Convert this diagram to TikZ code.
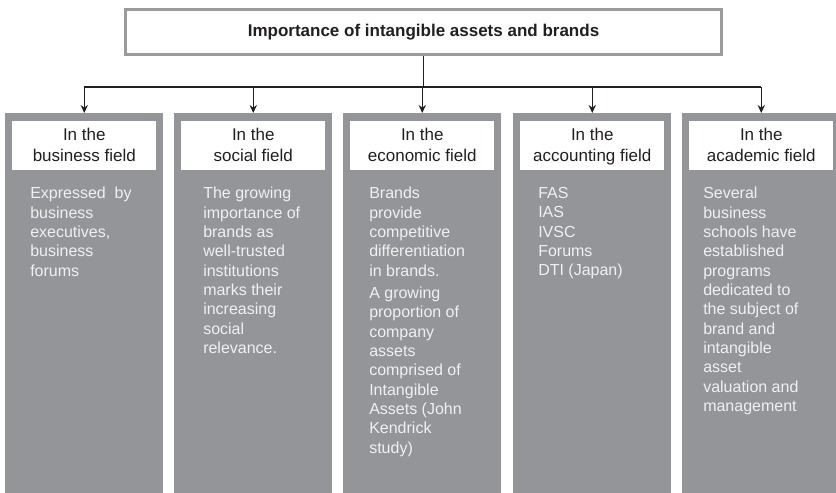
\documentclass[tikz,border=0pt]{standalone}
\usepackage{fontspec}
\setmainfont{Liberation Sans}
\usetikzlibrary{arrows.meta,positioning}
\definecolor{panel}{HTML}{939598}
\definecolor{frame}{HTML}{9B9B9B}
\definecolor{ink}{HTML}{231F20}
\definecolor{paper}{HTML}{F0F0F0}
\tikzset{
  titlebox/.style={draw=frame, line width=2pt, fill=white, minimum width=447pt, minimum height=34pt,
    inner sep=0pt, font=\fontsize{12.75}{15}\selectfont\bfseries, text=ink},
  column/.style={fill=panel, minimum width=118.5pt, minimum height=290pt, inner sep=0pt, anchor=north west},
  head/.style={fill=white, minimum width=108pt, minimum height=36.75pt, align=center, inner sep=0pt,
    text depth=2pt, anchor=north, font=\fontsize{12.75}{15.75}\selectfont, text=ink},
  body/.style={anchor=north west, align=left, inner sep=0pt, font=\fontsize{12}{14.5}\selectfont, text=paper},
  link/.style={draw=ink, line width=0.8pt},
  arr/.style={link, -{Stealth[length=6pt,width=5.5pt]}}
}
\begin{document}
\begin{tikzpicture}[x=0.75pt,y=-0.75pt]
  \useasboundingbox (0,0) rectangle (836,493);

  \node[titlebox] (title) at (423.5,32) {Importance of intangible assets and brands};

  % the five fields
  \node[column] (c1) at (5,113) {};
  \node[column] (c2) at (174,113) {};
  \node[column] (c3) at (343,113) {};
  \node[column] (c4) at (513,113) {};
  \node[column] (c5) at (682,113) {};

  \node[head] (h1) at ([yshift=-6pt]c1.north) {In the\\business field};
  \node[head] (h2) at ([yshift=-6pt]c2.north) {In the\\social field};
  \node[head] (h3) at ([yshift=-6pt]c3.north) {In the\\economic field};
  \node[head] (h4) at ([yshift=-6pt]c4.north) {In the\\accounting field};
  \node[head] (h5) at ([yshift=-6pt]c5.north) {In the\\academic field};

  \node[body] (b1) at ([xshift=18.75pt,yshift=-55.5pt]c1.north west)
    {Expressed~ by\\business\\executives,\\business\\forums};
  \node[body] (b2) at ([xshift=21.75pt,yshift=-55.5pt]c2.north west)
    {The growing\\importance of\\brands as\\well-trusted\\institutions\\marks their\\increasing\\social\\relevance.};
  \node[body] (b3) at ([xshift=19.5pt,yshift=-55.5pt]c3.north west)
    {Brands\\provide\\competitive\\differentiation\\in brands.\\[2.25pt]A growing\\proportion of\\company\\assets\\comprised of\\Intangible\\Assets (John\\Kendrick\\study)};
  \node[body] (b4) at ([xshift=18.75pt,yshift=-55.5pt]c4.north west)
    {FAS\\IAS\\IVSC\\Forums\\DTI (Japan)};
  \node[body] (b5) at ([xshift=15.75pt,yshift=-55.5pt]c5.north west)
    {Several\\business\\schools have\\established\\programs\\dedicated to\\the subject of\\brand and\\intangible\\asset\\valuation and\\management};

  % connectors
  \coordinate (j) at (423.5,87);
  \draw[link] (title.south) -- (j);
  \draw[link] (c1.north |- j) -- (c5.north |- j);
  \foreach \c in {c1,c2,c3,c4,c5}
    \draw[arr] (\c.north |- j) -- (\c.north);
\end{tikzpicture}
\end{document}
